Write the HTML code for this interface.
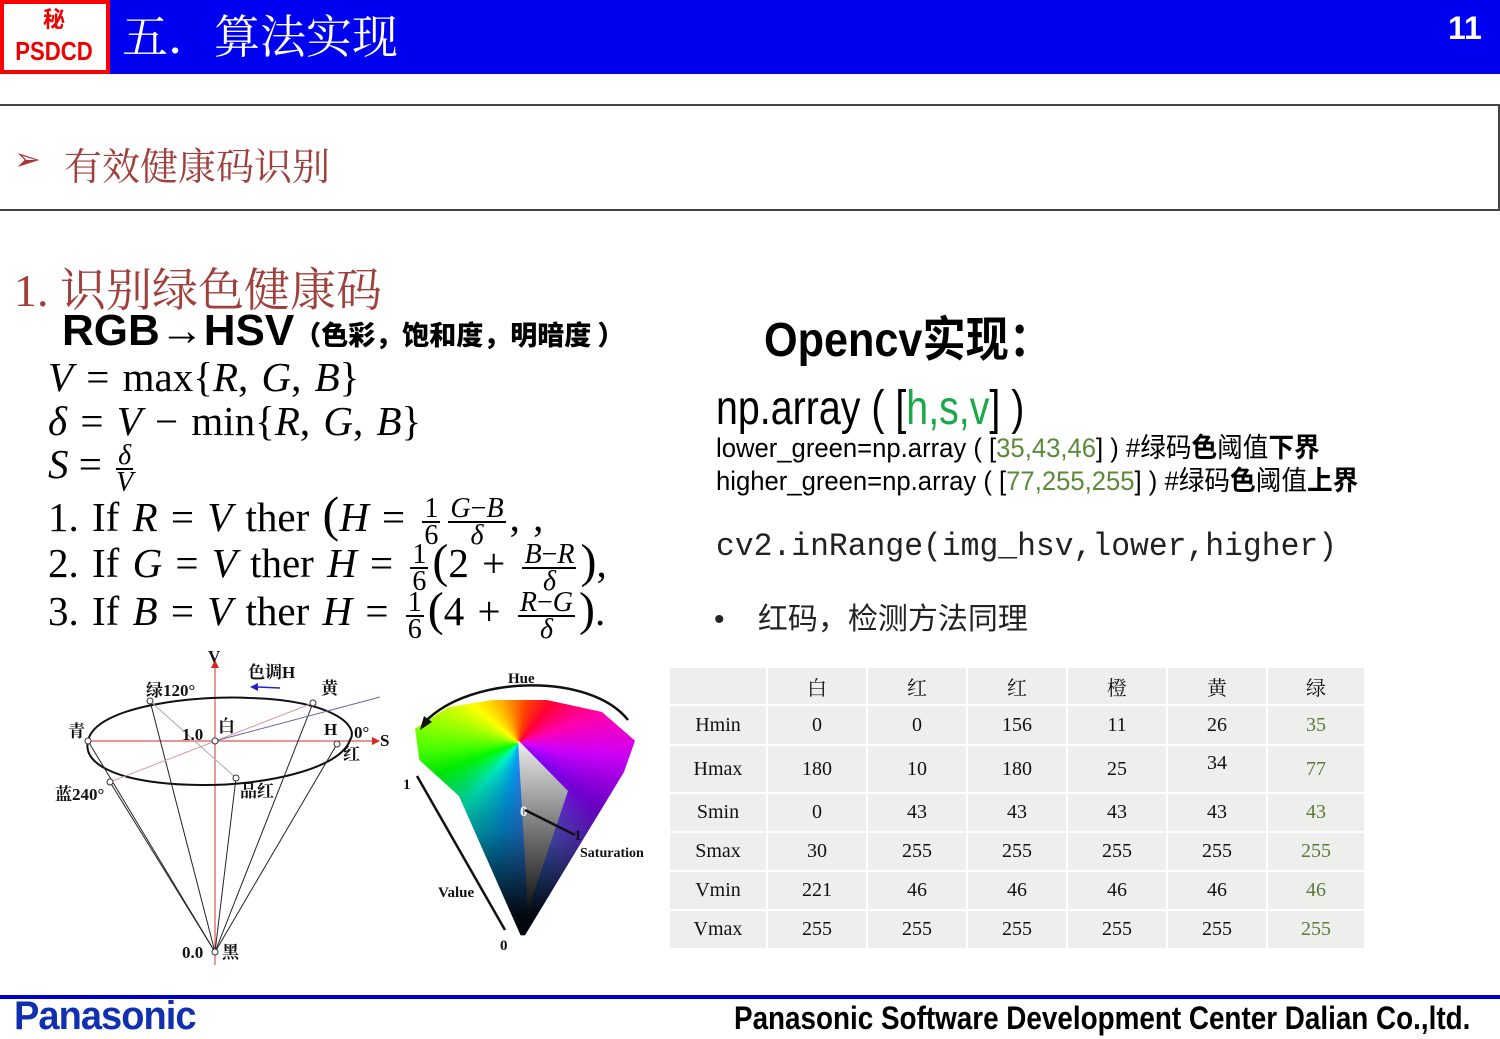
<!DOCTYPE html>
<html><head><meta charset="utf-8">
<style>
*{margin:0;padding:0;box-sizing:border-box}
body{width:1500px;height:1038px;position:relative;background:#fff;overflow:hidden;font-family:"Liberation Sans","Noto Sans CJK SC",sans-serif}
.a{position:absolute;white-space:nowrap}
.serif{font-family:"Liberation Serif","Noto Serif CJK SC",serif}
.m i{font-style:italic}
.fr{display:inline-block;vertical-align:middle;text-align:center;font-size:28px;line-height:25px;margin:0 4px}
.fr span{display:block}
.fr .n{border-bottom:2px solid #000;padding:0 2px}
table{border-collapse:separate;border-spacing:2px;position:absolute;left:668px;top:666px;font-family:"Liberation Serif","Noto Serif CJK SC",serif;font-size:20px}
td{background:#eeeeec;text-align:center;color:#111}
td.g{color:#5a7a3a}
</style></head><body>
<div class="a" style="left:0;top:0;width:1500px;height:74px;background:#0000f0"></div>
<div class="a" style="left:0;top:0;width:110px;height:74px;background:#fff;border:4px solid #f00"></div>
<div class="a" style="left:0;top:6px;width:108px;text-align:center;color:#e00;font-weight:bold;font-size:22px;font-family:'Noto Sans CJK SC',sans-serif;line-height:24px">秘</div>
<div class="a" style="left:4px;top:36px;width:100px;text-align:center;color:#e00;font-weight:bold;font-size:26px;line-height:30px;transform:scaleX(.85)">PSDCD</div>
<div class="a serif" style="left:122px;top:10px;color:#fff;font-size:46px;line-height:56px">五．算法实现</div>
<div class="a" style="left:1448px;top:10px;color:#fff;font-size:32px;font-weight:bold">11</div>
<div class="a" style="left:0;top:104px;width:1500px;height:107px;border-top:2px solid #444;border-bottom:2px solid #444;border-right:2px solid #444"></div>
<div class="a" style="left:14px;top:140px;font-size:32px;color:#a33">➢</div>
<div class="a serif" style="left:64px;top:136px;font-size:38px;color:#a0403c">有效健康码识别</div>
<div class="a serif" style="left:14px;top:254px;font-size:46px;color:#a0403c">1. 识别绿色健康码</div>
<div class="a" style="left:62px;top:306px;font-size:44px;font-weight:bold;color:#000;line-height:50px">RGB→HSV<span style="font-size:27px;font-family:'Noto Sans CJK SC',sans-serif;font-weight:900">（色彩，饱和度，明暗度 ）</span></div>
<div class="a serif m" style="left:48px;top:352px;font-size:41px;line-height:50px;word-spacing:3px"><i>V</i> = max{<i>R</i>, <i>G</i>, <i>B</i>}</div>
<div class="a serif m" style="left:48px;top:396px;font-size:41px;line-height:50px;word-spacing:3px"><i>δ</i> = <i>V</i> − min{<i>R</i>, <i>G</i>, <i>B</i>}</div>
<div class="a serif m" style="left:48px;top:438px;font-size:41px;line-height:52px"><i>S</i> = <span class="fr"><span class="n"><i>δ</i></span><span><i>V</i></span></span></div>
<div class="a serif m" style="left:48px;top:488px;font-size:41px;line-height:52px;word-spacing:3px">1. If <i>R</i> = <i>V</i> ther <span style="font-size:50px">(</span><i>H</i> = <span class="fr"><span class="n">1</span><span>6</span></span><span class="fr"><span class="n"><i>G</i>−<i>B</i></span><span><i>δ</i></span></span>, ,</div>
<div class="a serif m" style="left:48px;top:536px;font-size:41px;line-height:52px;word-spacing:3px">2. If <i>G</i> = <i>V</i> ther <i>H</i> = <span class="fr"><span class="n">1</span><span>6</span></span><span style="font-size:48px">(</span>2 + <span class="fr"><span class="n"><i>B</i>−<i>R</i></span><span><i>δ</i></span></span><span style="font-size:48px">)</span>,</div>
<div class="a serif m" style="left:48px;top:584px;font-size:41px;line-height:52px;word-spacing:3px">3. If <i>B</i> = <i>V</i> ther <i>H</i> = <span class="fr"><span class="n">1</span><span>6</span></span><span style="font-size:48px">(</span>4 + <span class="fr"><span class="n"><i>R</i>−<i>G</i></span><span><i>δ</i></span></span><span style="font-size:48px">)</span>.</div>
<div class="a" style="left:764px;top:300px;font-size:48px;font-weight:bold;transform:scaleX(.9);transform-origin:left">Opencv实现：</div>
<div class="a" style="left:716px;top:382px;font-size:48px;transform:scaleX(.82);transform-origin:left;line-height:54px">np.array ( [<span style="color:#1aa84a">h,s,v</span>] )</div>
<div class="a" style="left:716px;top:432px;font-size:27px;transform:scaleX(.95);transform-origin:left;line-height:32px">lower_green=np.array ( [<span style="color:#5a8a3a">35,43,46</span>] ) #绿码<b>色</b>阈值<b>下界</b></div>
<div class="a" style="left:716px;top:465px;font-size:27px;transform:scaleX(.95);transform-origin:left;line-height:32px">higher_green=np.array ( [<span style="color:#5a8a3a">77,255,255</span>] ) #绿码<b>色</b>阈值<b>上界</b></div>
<div class="a" style="left:716px;top:528px;font-size:32px;font-family:'Liberation Mono','Noto Sans CJK SC',monospace;color:#222;transform:scaleX(.98);transform-origin:left">cv2.inRange(img_hsv,lower,higher)</div>
<div class="a" style="left:714px;top:594px;font-size:30px;color:#222">•&nbsp;&nbsp;&nbsp;&nbsp;红码，检测方法同理</div>
<table>
<tr style="height:36px"><td style="width:96px"></td><td style="width:98px">白</td><td style="width:98px">红</td><td style="width:98px">红</td><td style="width:98px">橙</td><td style="width:98px">黄</td><td style="width:96px">绿</td></tr>
<tr style="height:38px"><td>Hmin</td><td>0</td><td>0</td><td>156</td><td>11</td><td>26</td><td class="g">35</td></tr>
<tr style="height:46px"><td>Hmax</td><td>180</td><td>10</td><td>180</td><td>25</td><td style="vertical-align:top;padding-top:6px">34</td><td class="g">77</td></tr>
<tr style="height:37px"><td>Smin</td><td>0</td><td>43</td><td>43</td><td>43</td><td>43</td><td class="g">43</td></tr>
<tr style="height:37px"><td>Smax</td><td>30</td><td>255</td><td>255</td><td>255</td><td>255</td><td class="g">255</td></tr>
<tr style="height:37px"><td>Vmin</td><td>221</td><td>46</td><td>46</td><td>46</td><td>46</td><td class="g">46</td></tr>
<tr style="height:37px"><td>Vmax</td><td>255</td><td>255</td><td>255</td><td>255</td><td>255</td><td class="g">255</td></tr>
</table>
<div class="a" style="left:415px;top:700px;width:220px;height:240px;clip-path:polygon(0% 12%,15% 3%,35% 0%,60% 0%,85% 5%,100% 17%,95% 30%,50% 98%,48% 98%,20% 40%,2% 25%);background:linear-gradient(to bottom,rgba(0,0,0,0) 20%,rgba(0,0,0,.35) 55%,rgba(0,0,0,.95) 90%),conic-gradient(from 250deg at 47% 18%,#0f0,#8f0,#ff0,#fa0,#f40,#f03,#f0a,#c0f,#80f,#66f,#0af,#0fc,#0f0)"></div>
<div class="a" style="left:518px;top:740px;width:50px;height:170px;background:linear-gradient(to bottom,#eee,#666 60%,#111);clip-path:polygon(0 0,100% 30%,20% 100%)"></div>
<svg class="a" style="left:0;top:0" width="1500" height="1038" font-family="Liberation Serif,Noto Serif CJK SC,serif" font-weight="bold">
<line x1="215" y1="665" x2="215" y2="965" stroke="#d55" stroke-width="1.2"/>
<polygon points="211,668 219,668 215,660" fill="#d22"/>
<line x1="88" y1="741" x2="372" y2="741" stroke="#d55" stroke-width="1.2"/>
<polygon points="372,737 372,745 380,741" fill="#d22"/>
<path d="M88,741 C95,705 200,695 250,698 C330,700 360,725 350,740 C340,770 260,786 200,785 C120,784 82,765 88,741 Z" fill="none" stroke="#111" stroke-width="2"/>
<g stroke="#222" stroke-width="1">
<line x1="88" y1="741" x2="215" y2="952"/><line x1="110" y1="782" x2="215" y2="952"/>
<line x1="150" y1="701" x2="215" y2="952"/><line x1="236" y1="778" x2="215" y2="952"/>
<line x1="337" y1="744" x2="215" y2="952"/><line x1="313" y1="703" x2="215" y2="952"/>
</g>
<line x1="110" y1="782" x2="313" y2="703" stroke="#d99" stroke-width="1"/>
<line x1="215" y1="741" x2="380" y2="697" stroke="#66a" stroke-width="1"/>
<line x1="150" y1="701" x2="236" y2="778" stroke="#aaa" stroke-width="1"/>
<g fill="#fff" stroke="#333"><circle cx="88" cy="741" r="3"/><circle cx="110" cy="782" r="3"/><circle cx="150" cy="701" r="3"/><circle cx="236" cy="778" r="3"/><circle cx="337" cy="744" r="3"/><circle cx="313" cy="703" r="3"/><circle cx="215" cy="741" r="3"/><circle cx="215" cy="952" r="3"/></g>
<path d="M280,688 L258,687" stroke="#22c" stroke-width="1.5"/><polygon points="258,683 258,691 250,687" fill="#22c"/>
<g font-size="17" fill="#111">
<text x="208" y="662">V</text><text x="248" y="678">色调H</text><text x="146" y="696">绿120°</text><text x="321" y="694">黄</text>
<text x="68" y="737">青</text><text x="182" y="740">1.0</text><text x="218" y="732">白</text><text x="324" y="735">H</text><text x="354" y="738">0°</text><text x="380" y="746">S</text><text x="343" y="760">红</text>
<text x="55" y="800">蓝240°</text><text x="240" y="797">品红</text><text x="182" y="958">0.0</text><text x="222" y="958">黑</text>
<text x="508" y="683" font-size="15">Hue</text><text x="403" y="789" font-size="15">1</text><text x="520" y="816" font-size="15" fill="#fff">0</text><text x="574" y="840" font-size="15">1</text>
<text x="580" y="857" font-size="14">Saturation</text><text x="438" y="897" font-size="15">Value</text><text x="500" y="950" font-size="15">0</text>
</g>
<path d="M425,722 C470,675 590,672 628,720" stroke="#111" stroke-width="2.5" fill="none"/>
<polygon points="420,730 432,722 424,716" fill="#111"/>
<path d="M417,776 L505,930" stroke="#111" stroke-width="2.5"/>
<path d="M525,810 L575,835" stroke="#111" stroke-width="2.5"/>
</svg>
<div class="a" style="left:0;top:995px;width:1500px;height:4px;background:#0000d0"></div>
<div class="a" style="left:14px;top:994px;font-size:40px;font-weight:bold;color:#1030b0;transform:scaleX(.95);transform-origin:left;letter-spacing:-1px">Panasonic</div>
<div class="a" style="left:734px;top:1000px;font-size:32px;font-weight:bold;color:#000;transform:scaleX(.87);transform-origin:left">Panasonic Software Development Center Dalian Co.,ltd.</div>
</body></html>
